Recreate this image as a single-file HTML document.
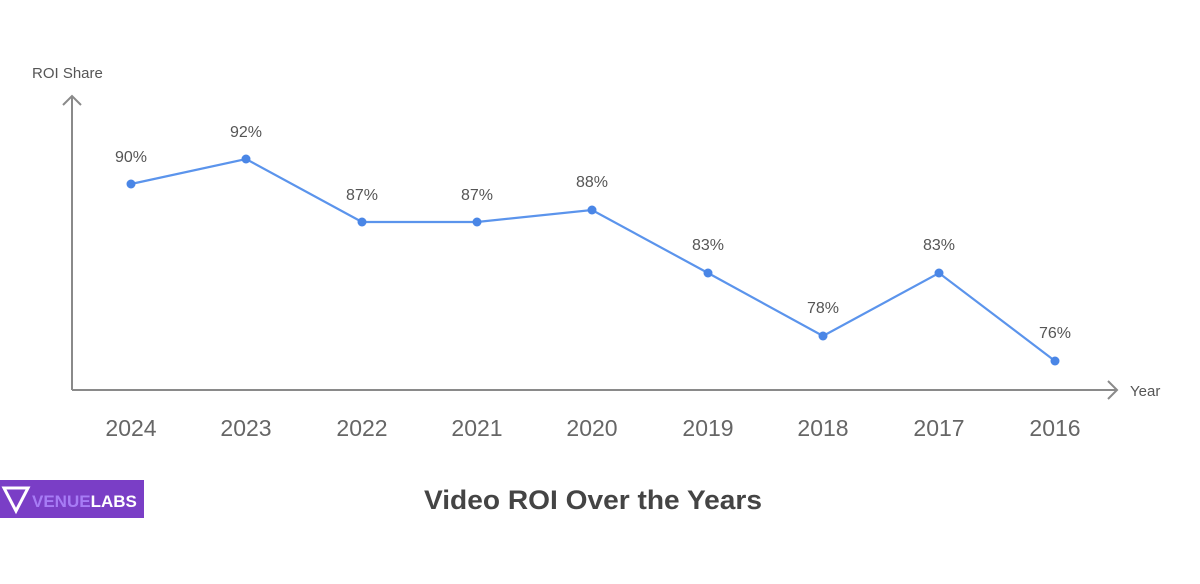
<!DOCTYPE html>
<html><head><style>body{margin:0;background:#fff;width:1200px;height:579px;overflow:hidden}</style></head><body>
<svg width="1200" height="579" xmlns="http://www.w3.org/2000/svg" font-family="Liberation Sans, sans-serif">
<g stroke="#8a8a8a" stroke-width="2" fill="none">
<line x1="72" y1="390" x2="72" y2="96"/><polyline points="63,105 72,96 81,105"/>
<line x1="72" y1="390" x2="1117" y2="390"/><polyline points="1108,381 1117,390 1108,399"/>
</g>
<text x="32" y="78" font-size="15" fill="#555">ROI Share</text>
<text x="1130" y="396" font-size="15" fill="#555">Year</text>
<polyline fill="none" stroke="#5b94ec" stroke-width="2.2" points="131,184 246,159 362,222 477,222 592,210 708,273 823,336 939,273 1055,361"/>
<g fill="#4a86e6">
<circle cx="131" cy="184" r="4.5"/><circle cx="246" cy="159" r="4.5"/><circle cx="362" cy="222" r="4.5"/><circle cx="477" cy="222" r="4.5"/><circle cx="592" cy="210" r="4.5"/><circle cx="708" cy="273" r="4.5"/><circle cx="823" cy="336" r="4.5"/><circle cx="939" cy="273" r="4.5"/><circle cx="1055" cy="361" r="4.5"/>
</g>
<g font-size="16" fill="#555" text-anchor="middle">
<text x="131" y="162">90%</text><text x="246" y="137">92%</text><text x="362" y="200">87%</text><text x="477" y="200">87%</text><text x="592" y="187">88%</text><text x="708" y="250">83%</text><text x="823" y="313">78%</text><text x="939" y="250">83%</text><text x="1055" y="338">76%</text>
</g>
<g font-size="23" fill="#666" text-anchor="middle">
<text x="131" y="436">2024</text><text x="246" y="436">2023</text><text x="362" y="436">2022</text><text x="477" y="436">2021</text><text x="592" y="436">2020</text><text x="708" y="436">2019</text><text x="823" y="436">2018</text><text x="939" y="436">2017</text><text x="1055" y="436">2016</text>
</g>
<text x="593" y="509" font-size="27" font-weight="bold" fill="#444" text-anchor="middle" textLength="338" lengthAdjust="spacingAndGlyphs">Video ROI Over the Years</text>
<rect x="0" y="480" width="144" height="38" fill="#7a3ec6"/>
<polygon points="4,488 28,488 16,511" fill="none" stroke="#fff" stroke-width="3"/>
<text x="32" y="507" font-size="17" font-weight="bold" fill="#a77cf5">VENUE<tspan fill="#fff">LABS</tspan></text>
</svg>
</body></html>
